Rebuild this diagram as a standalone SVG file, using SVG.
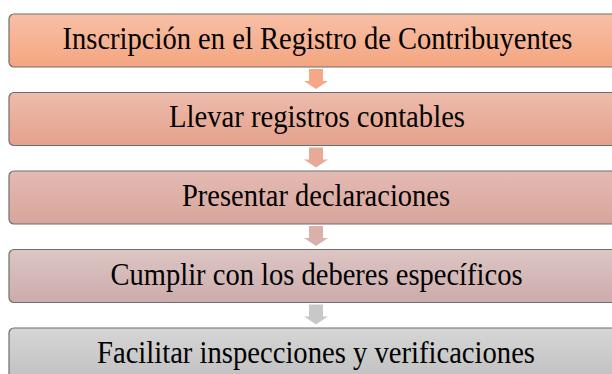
<svg xmlns="http://www.w3.org/2000/svg" width="612" height="374" viewBox="0 0 612 374">
<defs>
<linearGradient id="g1" x1="0" y1="0" x2="0" y2="1"><stop offset="0" stop-color="#f8c0a6"/><stop offset="1" stop-color="#f4a580"/></linearGradient>
<linearGradient id="g2" x1="0" y1="0" x2="0" y2="1"><stop offset="0" stop-color="#edbcac"/><stop offset="1" stop-color="#e4a18c"/></linearGradient>
<linearGradient id="g3" x1="0" y1="0" x2="0" y2="1"><stop offset="0" stop-color="#e4bab2"/><stop offset="1" stop-color="#d8a59c"/></linearGradient>
<linearGradient id="g4" x1="0" y1="0" x2="0" y2="1"><stop offset="0" stop-color="#dcc6c4"/><stop offset="1" stop-color="#ccabab"/></linearGradient>
<linearGradient id="g5" x1="0" y1="0" x2="0" y2="1"><stop offset="0" stop-color="#d6d6d6"/><stop offset="1" stop-color="#c0c0c0"/></linearGradient>
</defs>
<style>
.box{stroke:#6e6e6e;stroke-width:1.2}
.lbl{font-family:"Liberation Serif","Times New Roman",serif;font-size:31px;fill:#000;text-anchor:middle}
</style>
<rect width="612" height="374" fill="#ffffff"/>
<g id="connectors">
<path d="M309,69 H323 V81 H328 L316,89 L304,81 H309 Z" fill="#f5a888"/>
<path d="M309,147.5 H323 V159.5 H328 L316,167.5 L304,159.5 H309 Z" fill="#e8aa98"/>
<path d="M309,226 H323 V238 H328 L316,246 L304,238 H309 Z" fill="#dcb0aa"/>
<path d="M309,304.5 H323 V316.5 H328 L316,324.5 L304,316.5 H309 Z" fill="#c8c8c8"/>
</g>
<g id="n1"><rect class="box" x="9" y="14" width="620" height="53" rx="5" fill="url(#g1)"/><text class="lbl" x="317.5" y="49" textLength="510" lengthAdjust="spacingAndGlyphs">Inscripción en el Registro de Contribuyentes</text></g>
<g id="n2"><rect class="box" x="9" y="92.5" width="620" height="53" rx="5" fill="url(#g2)"/><text class="lbl" x="317" y="126.5" textLength="296" lengthAdjust="spacingAndGlyphs">Llevar registros contables</text></g>
<g id="n3"><rect class="box" x="9" y="171" width="620" height="53" rx="5" fill="url(#g3)"/><text class="lbl" x="316" y="205.5" textLength="268" lengthAdjust="spacingAndGlyphs">Presentar declaraciones</text></g>
<g id="n4"><rect class="box" x="9" y="249.5" width="620" height="53" rx="5" fill="url(#g4)"/><text class="lbl" x="316.5" y="284.5" textLength="412" lengthAdjust="spacingAndGlyphs">Cumplir con los deberes específicos</text></g>
<g id="n5"><rect class="box" x="9" y="328" width="620" height="53" rx="5" fill="url(#g5)"/><text class="lbl" x="316" y="362.5" textLength="438" lengthAdjust="spacingAndGlyphs">Facilitar inspecciones y verificaciones</text></g>
</svg>
